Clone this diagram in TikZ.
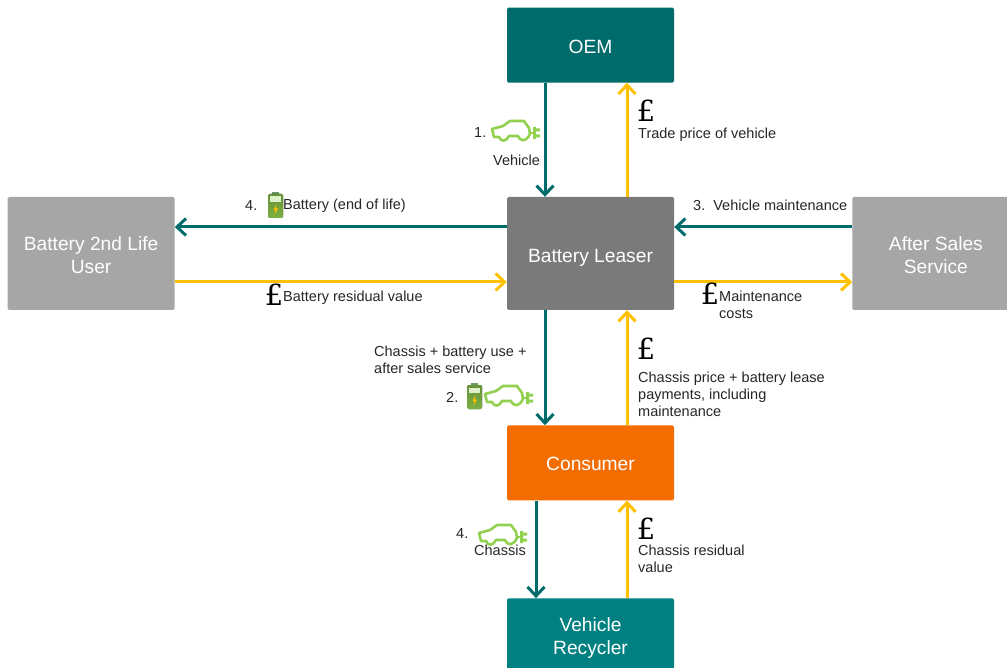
\documentclass[tikz,border=0pt]{standalone}
\usepackage{fontspec}
\setmainfont{Liberation Sans}
\newfontfamily\poundfont{DejaVu Serif}
\usetikzlibrary{positioning, arrows.meta}
\definecolor{tealdark}{HTML}{006B6B}
\definecolor{tealmid}{HTML}{008080}
\definecolor{leasergrey}{HTML}{7A7A7A}
\definecolor{sidegrey}{HTML}{A6A6A6}
\definecolor{consumerorange}{HTML}{F46D00}
\definecolor{moneyyellow}{HTML}{FFC000}
\definecolor{plantgreen}{HTML}{92D050}
\definecolor{labelgrey}{HTML}{262626}
\tikzset{
    carplug/.pic={
        \draw[plantgreen, line width=2.6pt, line join=round]
            (3,18) -- (1,10) -- (12,7) -- (19,2) -- (33,2) -- (38,9) -- (39,15)
            .. controls (35,23) and (30,23) .. (27,17) -- (18,17)
            .. controls (15,23) and (10,23) .. (8,18) -- cycle;
        \draw[plantgreen, line width=2.6pt] (39,14) -- (43,14);
        \fill[plantgreen] (42,8) rectangle (45,20) (45,9.5) rectangle (49,12.5) (45,15.5) rectangle (49,18.5);
    },
    batterypic/.pic={
        \fill[green!35!black!60] (4,0) rectangle (11,3);
        \fill[rounded corners=1.5pt, top color=plantgreen!70!black, bottom color=plantgreen!85!black] (0,2) rectangle (15,26);
        \fill[white!70!plantgreen] (2,4.5) rectangle (13,10);
        \fill[moneyyellow] (8.5,12) -- (5.5,18) -- (7.5,18) -- (6.5,23) -- (10,16.5) -- (8,16.5) -- cycle;
    }
}
\begin{document}
\begin{tikzpicture}[
            x=1pt, y=-1pt,
            node distance=114pt and 332pt,
            box/.style={minimum width=167pt, text=white, rounded corners=1.5pt, align=center, inner sep=0pt,
                font=\fontsize{19.2}{23}\selectfont},
            lbl/.style={anchor=west, inner sep=0pt, align=left, text=labelgrey,
                font=\fontsize{14.5}{17}\selectfont},
            pound/.style={anchor=center, inner sep=0pt, text=black, font=\fontsize{29}{29}\poundfont},
            goods/.style={-{Straight Barb[length=9pt, width=17pt, line width=3pt]}, line width=3pt, tealdark},
            money/.style={-{Straight Barb[length=9pt, width=17pt, line width=3pt]}, line width=3pt, moneyyellow}
        ]
        \clip (0,0) rectangle (1007,668);
        \useasboundingbox (0,0) rectangle (1007,668);

        % Boxes
        \node[box, fill=leasergrey, minimum height=113pt] (leaser) at (590.5,253.5) {\rule{0pt}{22pt}Battery Leaser};
        \node[box, fill=tealdark, minimum height=75pt, above=114pt of leaser] (oem) {\rule{0pt}{16pt}OEM};
        \node[box, fill=sidegrey, minimum height=113pt, left=332pt of leaser] (user) {\rule{0pt}{18pt}Battery 2nd Life\\User};
        \node[box, fill=sidegrey, minimum height=113pt, right=178pt of leaser] (service) {\rule{0pt}{18pt}After Sales\\Service};
        \node[box, fill=consumerorange, minimum height=75pt, below=115pt of leaser] (consumer) {\rule{0pt}{16pt}Consumer};
        \node[box, fill=tealmid, minimum height=74pt, below=97.5pt of consumer] (recycler) {\rule{0pt}{20pt}Vehicle\\Recycler};

        % Vehicle and service flows
        \draw[goods] ([xshift=-45.5pt]oem.south) -- ([xshift=-45.5pt]leaser.north);
        \draw[goods] ([yshift=26.5pt]leaser.west) -- ([yshift=26.5pt]user.east);
        \draw[goods] ([yshift=26.5pt]service.west) -- ([yshift=26.5pt]leaser.east);
        \draw[goods] ([xshift=-45.5pt]leaser.south) -- ([xshift=-45.5pt]consumer.north);
        \draw[goods] ([xshift=-54.5pt]consumer.south) -- ([xshift=-54.5pt]recycler.north);

        % Money flows
        \draw[money] ([xshift=36.5pt]leaser.north) -- ([xshift=36.5pt]oem.south);
        \draw[money] ([yshift=-28.5pt]user.east) -- ([yshift=-28.5pt]leaser.west);
        \draw[money] ([yshift=-28.5pt]leaser.east) -- ([yshift=-28.5pt]service.west);
        \draw[money] ([xshift=36.5pt]consumer.north) -- ([xshift=36.5pt]leaser.south);
        \draw[money] ([xshift=36.5pt]recycler.north) -- ([xshift=36.5pt]consumer.south);

        % Top labels
        \node[lbl] (num1) at (474,132.5) {1.};
        \pic at (491,119) {carplug};
        \node[lbl] (vehicle) at (493,160) {Vehicle};
        \node[pound] (poundoem) at (646,111) {£};
        \node[lbl] (trade) at (638,134.5) {Trade price of vehicle};

        % Left labels
        \node[lbl] (num4a) at (245,205.5) {4.};
        \pic at (268,192) {batterypic};
        \node[lbl] (endlife) at (283,206) {Battery (end of life)};
        \node[pound] (pounduser) at (274,295) {£};
        \node[lbl] (residual) at (283,298) {Battery residual value};

        % Right labels
        \node[lbl] (maint) at (693,205) {3.\ \ Vehicle maintenance};
        \node[pound] (poundservice) at (710,294) {£};
        \node[lbl] (costs) at (719,304.5) {Maintenance\\costs};

        % Middle labels
        \node[lbl] (chassisuse) at (374,359.5) {Chassis + battery use +\\after sales service};
        \node[lbl] (num2) at (446,397.5) {2.};
        \pic at (467,383) {batterypic};
        \pic at (484,384) {carplug};
        \node[pound] (poundlease) at (646,349) {£};
        \node[lbl] (lease) at (638,394) {Chassis price + battery lease\\payments, including\\maintenance};

        % Bottom labels
        \node[lbl] (num4b) at (456,533.5) {4.};
        \pic at (478,523) {carplug};
        \node[lbl] (chassis) at (474,550) {Chassis};
        \node[pound] (poundchassis) at (646,529) {£};
        \node[lbl] (chassisres) at (638,558.5) {Chassis residual\\value};

\end{tikzpicture}
\end{document}
